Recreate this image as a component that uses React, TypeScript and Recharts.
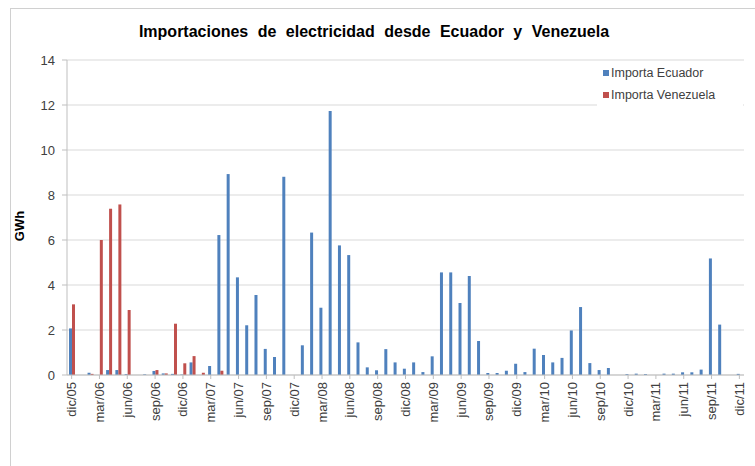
import React from "react";
import {
  BarChart,
  Bar,
  XAxis,
  YAxis,
  CartesianGrid,
} from "recharts";

// Monthly categories, Dec 2005 – Dec 2011
const meses: string[] = [
  "dic/05",
  "ene/06", "feb/06", "mar/06", "abr/06", "may/06", "jun/06", "jul/06", "ago/06", "sep/06", "oct/06", "nov/06", "dic/06",
  "ene/07", "feb/07", "mar/07", "abr/07", "may/07", "jun/07", "jul/07", "ago/07", "sep/07", "oct/07", "nov/07", "dic/07",
  "ene/08", "feb/08", "mar/08", "abr/08", "may/08", "jun/08", "jul/08", "ago/08", "sep/08", "oct/08", "nov/08", "dic/08",
  "ene/09", "feb/09", "mar/09", "abr/09", "may/09", "jun/09", "jul/09", "ago/09", "sep/09", "oct/09", "nov/09", "dic/09",
  "ene/10", "feb/10", "mar/10", "abr/10", "may/10", "jun/10", "jul/10", "ago/10", "sep/10", "oct/10", "nov/10", "dic/10",
  "ene/11", "feb/11", "mar/11", "abr/11", "may/11", "jun/11", "jul/11", "ago/11", "sep/11", "oct/11", "nov/11", "dic/11",
];

// Imports from Ecuador, GWh
const importaEcuador: number[] = [
  2.07,
  0, 0.1, 0, 0.22, 0.22, 0.04, 0, 0.03, 0.18, 0.07, 0.05, 0.02,
  0.56, 0, 0.4, 6.22, 8.93, 4.34, 2.21, 3.56, 1.16, 0.8, 8.81, 0,
  1.32, 6.33, 2.99, 11.73, 5.76, 5.33, 1.45, 0.34, 0.21, 1.15, 0.56, 0.28,
  0.56, 0.13, 0.83, 4.56, 4.56, 3.2, 4.4, 1.51, 0.09, 0.09, 0.19, 0.5,
  0.13, 1.17, 0.89, 0.56, 0.76, 1.98, 3.02, 0.53, 0.22, 0.31, 0, 0.04,
  0.06, 0.04, 0, 0.06, 0.06, 0.12, 0.12, 0.24, 5.18, 2.24, 0, 0.05,
];

// Imports from Venezuela, GWh
const importaVenezuela: number[] = [
  3.14,
  0, 0.05, 6.0, 7.39, 7.58, 2.89, 0, 0, 0.22, 0.07, 2.28, 0.52,
  0.84, 0.1, 0, 0.19, 0, 0, 0, 0, 0, 0, 0, 0,
  0, 0, 0, 0, 0, 0, 0, 0, 0, 0, 0, 0,
  0, 0, 0, 0, 0, 0, 0, 0, 0, 0, 0, 0,
  0, 0, 0, 0, 0, 0, 0, 0, 0, 0, 0, 0,
  0, 0, 0, 0, 0, 0, 0, 0, 0, 0, 0, 0,
];

const yTicks: number[] = [0, 2, 4, 6, 8, 10, 12, 14];

const series = [
  { key: "ecuador", label: "Importa Ecuador", color: "#4F81BD" },
  { key: "venezuela", label: "Importa Venezuela", color: "#C0504D" },
];

const data = meses.map((mes, i) => ({
  mes,
  ecuador: importaEcuador[i],
  venezuela: importaVenezuela[i],
}));

const FONT = "'Liberation Sans', Arial, sans-serif";

const XTick = (props: any) => {
  const { x, y, payload } = props;
  return (
    <g transform={`translate(${x},${y})`}>
      <text
        transform="rotate(-90)"
        x={0}
        y={0}
        textAnchor="end"
        dominantBaseline="central"
        fontFamily={FONT}
        fontSize={13}
        fill="#404040"
      >
        {payload.value}
      </text>
    </g>
  );
};

export default function App() {
  return (
    <div
      style={{
        position: "absolute",
        left: 0,
        top: 0,
        width: 755,
        height: 466,
        background: "#fff",
        overflow: "hidden",
      }}
    >
      {/* chart frame */}
      <div
        style={{
          position: "absolute",
          left: 10,
          top: 8,
          width: 760,
          height: 480,
          border: "1px solid #d0d0d0",
          boxSizing: "border-box",
        }}
      />
      {/* title */}
      <div
        style={{
          position: "absolute",
          left: 0,
          top: 23,
          width: 748,
          textAlign: "center",
          fontFamily: FONT,
          fontWeight: "bold",
          fontSize: 16,
          wordSpacing: 5,
          color: "#000",
        }}
      >
        Importaciones de electricidad desde Ecuador y Venezuela
      </div>
      <div style={{ position: "absolute", left: 0, top: 0 }}>
        <BarChart
          width={755}
          height={466}
          data={data}
          margin={{ top: 60, right: 11, bottom: 5, left: 10 }}
          barGap={0}
          barSize={3}
        >
          <CartesianGrid vertical={false} stroke="#d9d9d9" />
          <XAxis
            dataKey="mes"
            interval={2}
            height={86}
            tick={<XTick />}
            tickSize={4}
            tickMargin={3}
            axisLine={{ stroke: "#bfbfbf" }}
            tickLine={{ stroke: "#bfbfbf" }}
          />
          <YAxis
            width={57}
            domain={[0, 14]}
            ticks={yTicks}
            interval={0}
            tickSize={5}
            tickMargin={7}
            axisLine={{ stroke: "#bfbfbf" }}
            tickLine={{ stroke: "#bfbfbf" }}
            tick={{ fontFamily: FONT, fontSize: 13, fill: "#404040" }}
          />
          {series.map((s) => (
            <Bar
              key={s.key}
              dataKey={s.key}
              name={s.label}
              fill={s.color}
              isAnimationActive={false}
            />
          ))}
        </BarChart>
      </div>
      {/* y-axis title */}
      <div
        style={{
          position: "absolute",
          left: 19,
          top: 226,
          transform: "translate(-50%, -50%) rotate(-90deg)",
          fontFamily: FONT,
          fontWeight: "bold",
          fontSize: 13,
          color: "#000",
          whiteSpace: "nowrap",
        }}
      >
        GWh
      </div>
      {/* legend */}
      <div
        style={{
          position: "absolute",
          left: 597,
          top: 61,
          width: 146,
          height: 47,
          background: "#fff",
          fontFamily: FONT,
          fontSize: 12.5,
          color: "#404040",
          paddingTop: 1,
          boxSizing: "border-box",
        }}
      >
        {series.map((s) => (
          <div
            key={s.key}
            style={{ display: "flex", alignItems: "center", height: 22, paddingLeft: 6 }}
          >
            <span
              style={{
                display: "inline-block",
                width: 6,
                height: 6,
                background: s.color,
                marginRight: 2,
              }}
            />
            <span>{s.label}</span>
          </div>
        ))}
      </div>
    </div>
  );
}
